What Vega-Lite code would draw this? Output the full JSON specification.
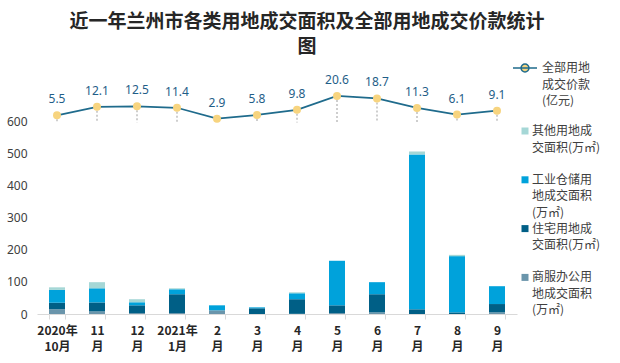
{
  "$schema": "https://vega.github.io/schema/vega-lite/v6.json",
  "autosize": {"type": "none"},
  "width": 480,
  "height": 225,
  "padding": {"left": 37, "top": 89, "right": 103, "bottom": 49},
  "background": "white",
  "config": {"view": {"stroke": null}, "font": "Noto Sans CJK SC"},
  "title": {
    "text": ["近一年兰州市各类用地成交面积及全部用地成交价款统计", "图"],
    "font": "Noto Sans CJK SC",
    "fontSize": 19,
    "fontWeight": "bold",
    "color": "#262626",
    "anchor": "middle",
    "dx": 30,
    "dy": 12,
    "lineHeight": 25,
    "offset": 10
  },
  "datasets": {
    "bars": [
      {"month": "2020年\n10月", "type": "商服办公用地成交面积(万㎡)", "area": 15},
      {"month": "2020年\n10月", "type": "住宅用地成交面积(万㎡)", "area": 20},
      {"month": "2020年\n10月", "type": "工业仓储用地成交面积(万㎡)", "area": 40},
      {"month": "2020年\n10月", "type": "其他用地成交面积(万㎡)", "area": 8},
      {"month": "11\n月", "type": "商服办公用地成交面积(万㎡)", "area": 8},
      {"month": "11\n月", "type": "住宅用地成交面积(万㎡)", "area": 28},
      {"month": "11\n月", "type": "工业仓储用地成交面积(万㎡)", "area": 44},
      {"month": "11\n月", "type": "其他用地成交面积(万㎡)", "area": 19},
      {"month": "12\n月", "type": "商服办公用地成交面积(万㎡)", "area": 3},
      {"month": "12\n月", "type": "住宅用地成交面积(万㎡)", "area": 24},
      {"month": "12\n月", "type": "工业仓储用地成交面积(万㎡)", "area": 9.5},
      {"month": "12\n月", "type": "其他用地成交面积(万㎡)", "area": 9.5},
      {"month": "2021年\n1月", "type": "商服办公用地成交面积(万㎡)", "area": 3},
      {"month": "2021年\n1月", "type": "住宅用地成交面积(万㎡)", "area": 58.5},
      {"month": "2021年\n1月", "type": "工业仓储用地成交面积(万㎡)", "area": 15.5},
      {"month": "2021年\n1月", "type": "其他用地成交面积(万㎡)", "area": 3},
      {"month": "2\n月", "type": "商服办公用地成交面积(万㎡)", "area": 11.5},
      {"month": "2\n月", "type": "工业仓储用地成交面积(万㎡)", "area": 15.5},
      {"month": "3\n月", "type": "住宅用地成交面积(万㎡)", "area": 17.7},
      {"month": "3\n月", "type": "工业仓储用地成交面积(万㎡)", "area": 3},
      {"month": "4\n月", "type": "商服办公用地成交面积(万㎡)", "area": 0.5},
      {"month": "4\n月", "type": "住宅用地成交面积(万㎡)", "area": 45.5},
      {"month": "4\n月", "type": "工业仓储用地成交面积(万㎡)", "area": 18.5},
      {"month": "4\n月", "type": "其他用地成交面积(万㎡)", "area": 3},
      {"month": "5\n月", "type": "商服办公用地成交面积(万㎡)", "area": 3},
      {"month": "5\n月", "type": "住宅用地成交面积(万㎡)", "area": 24},
      {"month": "5\n月", "type": "工业仓储用地成交面积(万㎡)", "area": 138.6},
      {"month": "6\n月", "type": "商服办公用地成交面积(万㎡)", "area": 5},
      {"month": "6\n月", "type": "住宅用地成交面积(万㎡)", "area": 56.5},
      {"month": "6\n月", "type": "工业仓储用地成交面积(万㎡)", "area": 37.5},
      {"month": "7\n月", "type": "住宅用地成交面积(万㎡)", "area": 14.6},
      {"month": "7\n月", "type": "工业仓储用地成交面积(万㎡)", "area": 482},
      {"month": "7\n月", "type": "其他用地成交面积(万㎡)", "area": 9},
      {"month": "8\n月", "type": "住宅用地成交面积(万㎡)", "area": 5},
      {"month": "8\n月", "type": "工业仓储用地成交面积(万㎡)", "area": 175},
      {"month": "8\n月", "type": "其他用地成交面积(万㎡)", "area": 4},
      {"month": "9\n月", "type": "商服办公用地成交面积(万㎡)", "area": 5},
      {"month": "9\n月", "type": "住宅用地成交面积(万㎡)", "area": 26},
      {"month": "9\n月", "type": "工业仓储用地成交面积(万㎡)", "area": 55.5}
    ],
    "price": [
      {"month": "2020年\n10月", "series": "全部用地成交价款(亿元)", "price": 5.5},
      {"month": "11\n月", "series": "全部用地成交价款(亿元)", "price": 12.1},
      {"month": "12\n月", "series": "全部用地成交价款(亿元)", "price": 12.5},
      {"month": "2021年\n1月", "series": "全部用地成交价款(亿元)", "price": 11.4},
      {"month": "2\n月", "series": "全部用地成交价款(亿元)", "price": 2.9},
      {"month": "3\n月", "series": "全部用地成交价款(亿元)", "price": 5.8},
      {"month": "4\n月", "series": "全部用地成交价款(亿元)", "price": 9.8},
      {"month": "5\n月", "series": "全部用地成交价款(亿元)", "price": 20.6},
      {"month": "6\n月", "series": "全部用地成交价款(亿元)", "price": 18.7},
      {"month": "7\n月", "series": "全部用地成交价款(亿元)", "price": 11.3},
      {"month": "8\n月", "series": "全部用地成交价款(亿元)", "price": 6.1},
      {"month": "9\n月", "series": "全部用地成交价款(亿元)", "price": 9.1}
    ]
  },
  "layer": [
    {
      "data": {"name": "bars"},
      "transform": [{"window": [{"op": "row_number", "as": "k"}]}],
      "mark": {"type": "bar"},
      "encoding": {
        "x": {
          "field": "month",
          "type": "nominal",
          "sort": ["2020年\n10月", "11\n月", "12\n月", "2021年\n1月", "2\n月", "3\n月", "4\n月", "5\n月", "6\n月", "7\n月", "8\n月", "9\n月"],
          "scale": {"paddingInner": 0.6, "paddingOuter": 0.3},
          "title": null,
          "axis": {
            "labelExpr": "split(datum.label, '\\n')",
            "labelAngle": 0,
            "labelFont": "Noto Sans CJK SC",
            "labelFontSize": 12,
            "labelFontWeight": "bold",
            "labelColor": "#262626",
            "labelLineHeight": 16,
            "labelPadding": 6,
            "tickBand": "extent",
            "tickSize": 5,
            "tickColor": "#d9d9d9",
            "domainColor": "#d9d9d9",
            "grid": false
          }
        },
        "y": {
          "field": "area",
          "type": "quantitative",
          "stack": "zero",
          "scale": {"domain": [0, 700]},
          "title": null,
          "axis": {
            "values": [0, 100, 200, 300, 400, 500, 600],
            "grid": false,
            "domain": false,
            "ticks": false,
            "labelPadding": 10,
            "labelFont": "Noto Sans",
            "labelFontSize": 12,
            "labelColor": "#404040"
          }
        },
        "order": {"field": "k", "type": "quantitative", "sort": "ascending"},
        "color": {
          "field": "type",
          "type": "nominal",
          "scale": {
            "domain": ["商服办公用地成交面积(万㎡)", "住宅用地成交面积(万㎡)", "工业仓储用地成交面积(万㎡)", "其他用地成交面积(万㎡)"],
            "range": ["#6a95ab", "#005f86", "#00a2db", "#a5d7d6"]
          },
          "legend": {
            "orient": "none",
            "legendX": 482,
            "legendY": 36,
            "title": null,
            "values": ["其他用地成交面积(万㎡)", "工业仓储用地成交面积(万㎡)", "住宅用地成交面积(万㎡)", "商服办公用地成交面积(万㎡)"],
            "symbolType": "square",
            "symbolSize": 49,
            "labelOffset": 1,
            "rowPadding": 3.8,
            "labelFont": "Noto Sans CJK SC",
            "labelFontSize": 12,
            "labelColor": "#404040",
            "labelBaseline": "middle",
            "labelLimit": 0,
            "labelExpr": "datum.label == '其他用地成交面积(万㎡)' ? ['其他用地成','交面积(万㎡)',''] : datum.label == '住宅用地成交面积(万㎡)' ? ['住宅用地成','交面积(万㎡)',''] : datum.label == '工业仓储用地成交面积(万㎡)' ? ['工业仓储用','地成交面积','(万㎡)'] : ['商服办公用','地成交面积','(万㎡)']",
            "encode": {"labels": {"update": {"lineHeight": {"value": 16.5}}}}
          }
        }
      }
    },
    {
      "data": {"name": "price"},
      "encoding": {
        "x": {
          "field": "month",
          "type": "nominal",
          "sort": ["2020年\n10月", "11\n月", "12\n月", "2021年\n1月", "2\n月", "3\n月", "4\n月", "5\n月", "6\n月", "7\n月", "8\n月", "9\n月"]
        },
        "y": {"field": "price", "type": "quantitative", "scale": {"domain": [-149, 26]}, "axis": null}
      },
      "layer": [
        {
          "mark": {"type": "rule", "color": "#bfbfbf", "strokeDash": [2, 2], "strokeWidth": 1.5},
          "encoding": {"y2": {"datum": 0}}
        },
        {
          "mark": {"type": "line", "strokeWidth": 1.75},
          "encoding": {
            "stroke": {
              "field": "series",
              "type": "nominal",
              "scale": {"range": ["#1f6b8c"]},
              "legend": {
                "orient": "none",
                "legendX": 475,
                "legendY": -34,
                "title": null,
                "symbolType": "M-1,0H1M-0.33,0A0.33,0.33,0,1,0,0.33,0A0.33,0.33,0,1,0,-0.33,0Z",
                "symbolSize": 576,
                "symbolStrokeWidth": 1.5,
                "labelOffset": 4,
                "labelFont": "Noto Sans CJK SC",
                "labelFontSize": 12,
                "labelColor": "#404040",
                "labelBaseline": "middle",
                "labelLimit": 0,
                "labelExpr": "['全部用地','成交价款','(亿元)']",
                "encode": {
                  "symbols": {"update": {"fill": {"value": "#f7d47f"}, "stroke": {"value": "#1f6b8c"}}},
                  "labels": {"update": {"lineHeight": {"value": 16.5}}}
                }
              }
            }
          }
        },
        {"mark": {"type": "point", "filled": true, "opacity": 1, "color": "#f7d47f", "size": 64}},
        {
          "mark": {"type": "text", "dy": -16, "color": "#1f5e88", "fontSize": 12, "font": "Noto Sans"},
          "encoding": {"text": {"field": "price", "type": "quantitative", "format": ".1f"}}
        }
      ]
    }
  ],
  "resolve": {"scale": {"y": "independent"}}
}
